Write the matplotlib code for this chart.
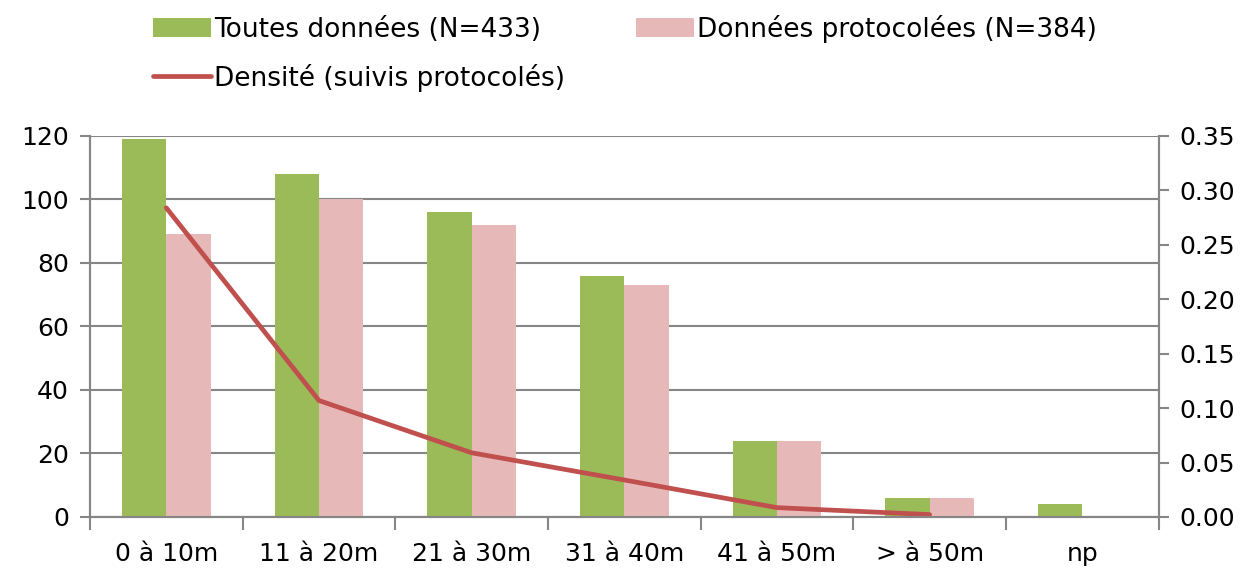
import matplotlib.pyplot as plt
import numpy as np

# données
categories = ['0 à 10m', '11 à 20m', '21 à 30m', '31 à 40m', '41 à 50m', '> à 50m', 'np']
toutes = [119, 108, 96, 76, 24, 6, 4]
protocolees = [89, 100, 92, 73, 24, 6, 0]
densite = [0.284, 0.107, 0.059, 0.034, 0.0086, 0.0022]

label_toutes = 'Toutes données (N=433)'
label_proto = 'Données protocolées (N=384)'
label_dens = 'Densité (suivis protocolés)'

green = '#9BBB59'
pink = '#E6B9B8'
red = '#C0504D'
grey = '#868686'

plt.rcParams['font.family'] = ['DejaVu Sans']
fs = 18

fig = plt.figure(figsize=(12.58, 5.68), dpi=100)
ax = fig.add_axes([0.0715, 0.0898, 0.921 - 0.0715, 0.7606 - 0.0898])
ax2 = ax.twinx()

x = np.arange(len(categories))
w = 0.29
b1 = ax.bar(x - w / 2, toutes, width=w, color=green, zorder=3)
b2 = ax.bar(x + w / 2, protocolees, width=w, color=pink, zorder=3)
l1, = ax2.plot(x[:len(densite)], densite, color=red, lw=3.4,
               solid_capstyle='round', solid_joinstyle='round')

ax.set_xlim(-0.5, len(categories) - 0.5)
ax.set_ylim(0, 120)
ax.set_yticks(range(0, 121, 20))
ax2.set_ylim(0, 0.35)
ax2.set_yticks(np.arange(0, 0.351, 0.05))
ax2.set_yticklabels([f'{v:.2f}' for v in np.arange(0, 0.351, 0.05)])

ax.yaxis.grid(True, color=grey, lw=1.5, zorder=0)
ax.set_axisbelow(True)

# graduations x entre les catégories
ax.set_xticks(np.arange(-0.5, len(categories), 1.0))
ax.set_xticklabels([])
ax.set_xticks(x, minor=True)
ax.set_xticklabels(categories, minor=True)
ax.tick_params(axis='x', which='major', length=9, width=1.5, color=grey, direction='out')
ax.tick_params(axis='x', which='minor', length=0, pad=18, labelsize=fs)
ax.tick_params(axis='y', length=7, width=1.5, color=grey, labelsize=fs, pad=8)
ax2.tick_params(axis='y', length=7, width=1.5, color=grey, labelsize=fs, pad=8)

for a in (ax, ax2):
    a.spines['top'].set_visible(False)
    for s in ('left', 'right', 'bottom'):
        a.spines[s].set_color(grey)
        a.spines[s].set_linewidth(1.5)

fig.legend([b1, l1, b2], [label_toutes, label_dens, label_proto],
           ncol=2, loc='upper left', bbox_to_anchor=(0.103, 1.016),
           frameon=False, fontsize=19, handlelength=2.2, handleheight=0.75,
           handletextpad=0.1, columnspacing=2.7, labelspacing=0.8)

fig.savefig('out.png', dpi=100)
